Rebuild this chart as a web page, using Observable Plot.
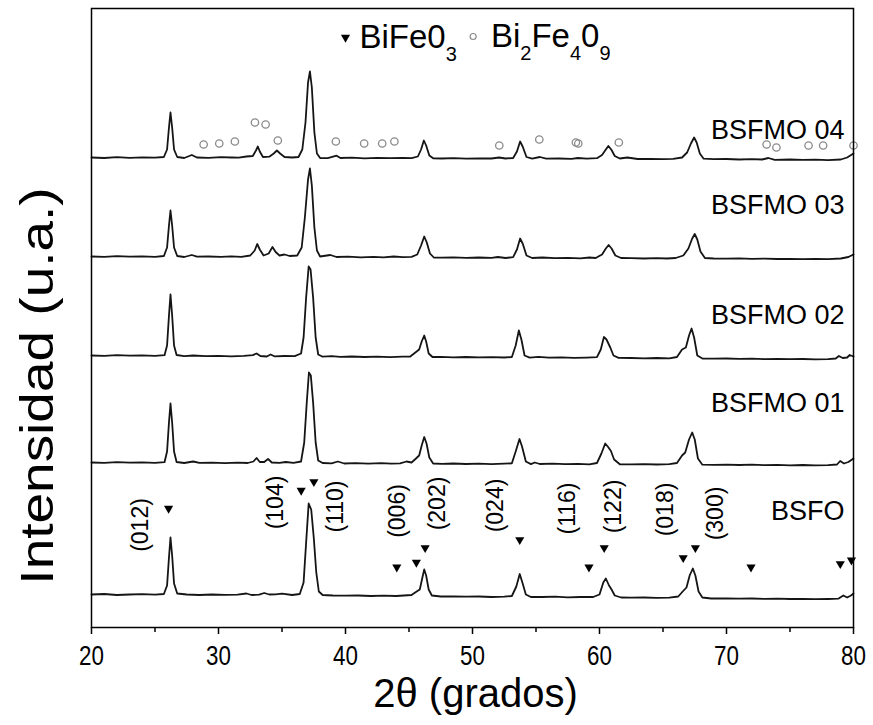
<!DOCTYPE html>
<html><head><meta charset="utf-8">
<script src="https://cdn.jsdelivr.net/npm/d3@7"></script>
<script src="https://cdn.jsdelivr.net/npm/@observablehq/plot@0.6"></script>
<style>body{margin:0;background:#fff} #chart{width:873px;height:725px}</style>
</head><body><div id="chart"></div>
<script>
const FONT = "'Liberation Sans', Arial, Helvetica, sans-serif";

// 2θ (grados) vs Intensidad (u.a.), traces already stacked
const bsfo = [[20,33],[21,33.5],[22,32.5],[23,33],[24,33.3],[25,32.8],[25.7,33.5],[25.95,42],[26.1,70],[26.22,90],[26.35,72],[26.5,44],[26.75,34],[27.5,33],[28.5,32.5],[29.5,33],[30.5,32.6],[31.5,32.8],[32.2,34],[32.6,32.5],[33.2,32.8],[33.6,34.5],[34,33],[34.5,33.2],[35,33.8],[35.8,32.5],[36.4,33.5],[36.7,45],[36.9,85],[37.1,124],[37.3,118],[37.5,90],[37.7,55],[37.9,36],[38.2,32.5],[39,32],[40,31.8],[41,32],[42,31.5],[43,31.8],[44,31.5],[44.6,32],[45.2,32.5],[45.6,36],[45.85,38],[46.02,48],[46.2,58],[46.35,52],[46.55,38],[46.8,32],[47.5,31],[48.5,31.2],[49.5,30.8],[50.5,31],[51.5,30.5],[52.5,30.8],[53.1,31.5],[53.45,41],[53.72,53.5],[53.95,44],[54.2,33],[54.6,30.5],[55.5,30.5],[56.5,30.8],[57.5,30.2],[58.5,30.5],[59.5,30.5],[60.0,33],[60.3,45],[60.5,49],[60.75,42],[60.95,38],[61.2,32],[61.7,30],[62.5,29.8],[63.5,30],[64.5,29.6],[65.5,29.8],[66.2,31],[66.55,36],[66.85,40],[67.1,52],[67.35,59],[67.55,52],[67.8,36],[68.1,30],[68.8,29],[70,29.2],[71,28.8],[72,29],[73,28.6],[74,28.8],[75,28.5],[76,28.7],[77,28.3],[78,28.5],[78.8,28.8],[79.2,32],[79.5,30],[79.8,32],[80,34]];
const bsfmo01 = [[20,165],[21,164.6],[22,165.3],[23,164.8],[24,165.2],[25,164.7],[25.75,165.3],[25.95,176],[26.1,205],[26.22,224],[26.35,205],[26.5,176],[26.7,165.5],[27.3,164.5],[28,166],[28.5,164.6],[29.5,164.9],[30.5,164.4],[31.5,164.8],[32.3,164.5],[32.75,166],[33.0,169.5],[33.25,165.5],[33.6,165.5],[33.9,168.5],[34.2,165],[34.8,164.6],[35.3,165.5],[35.9,164.6],[36.5,166],[36.75,185],[36.95,225],[37.12,255],[37.27,252],[37.45,225],[37.65,185],[37.85,167],[38.2,164.5],[38.9,164.2],[39.4,166],[39.9,164],[40.8,164.4],[41.8,163.9],[42.8,164.3],[43.6,163.8],[44.3,164.2],[44.8,166],[45.2,165],[45.55,169],[45.8,172],[46.0,182],[46.2,190.5],[46.38,184],[46.6,170],[46.9,164],[47.6,163.6],[48.5,164],[49.5,163.5],[50.5,163.9],[51.5,163.4],[52.5,163.8],[53.1,164.2],[53.4,176],[53.7,188.5],[53.9,181],[54.2,166],[54.6,163.4],[54.9,165],[55.3,163.5],[56.3,163.8],[57.3,163.3],[58.3,163.6],[59.2,163.2],[59.8,164.5],[60.15,174],[60.45,184],[60.65,181],[60.9,176.5],[61.15,168],[61.6,163.2],[62.5,163.1],[63.5,163.4],[64.5,163],[65.5,163.3],[66.1,164.5],[66.5,172],[66.75,175],[67.05,188],[67.3,195],[67.5,188],[67.75,169],[68.1,162.8],[69,162.6],[70,162.9],[71,162.5],[72,162.8],[73,162.3],[74,162.6],[75,162.2],[76,162.5],[77,162.1],[78,162.4],[78.7,163],[78.95,166.5],[79.25,164],[79.6,165.5],[80,169]];
const bsfmo02 = [[20,272],[21,271.6],[22,272.3],[23,271.8],[24,272.1],[25,271.7],[25.75,272.3],[25.95,282],[26.1,312],[26.22,333],[26.35,312],[26.5,282],[26.7,272.5],[27.3,271.4],[28,272],[29,271.3],[30,271.7],[31,271.2],[32,271.6],[32.7,272.4],[33.0,274],[33.3,271.5],[33.8,271],[34.1,273],[34.4,271.2],[35.2,271.5],[36,271.3],[36.5,274],[36.7,290],[36.9,330],[37.1,361],[37.25,358],[37.45,330],[37.65,290],[37.85,273],[38.2,270.8],[38.9,271.3],[39.6,270.6],[40.5,271],[41.5,270.5],[42.5,270.9],[43.5,270.4],[44.5,270.8],[45.1,271],[45.5,275],[45.8,278],[46.0,286],[46.2,292],[46.35,286],[46.55,274],[46.85,270.5],[47.5,270.6],[48.5,270.2],[49.5,270.5],[50.5,270.1],[51.5,270.4],[52.5,270],[53.1,270.5],[53.4,282],[53.65,297],[53.85,288],[54.1,272],[54.5,269.8],[55.2,270.6],[56,269.8],[57,270.1],[58,269.6],[59,269.9],[59.8,270.3],[60.1,278],[60.35,290.5],[60.55,288],[60.85,280],[61.1,272],[61.5,269.6],[62.5,269.5],[63.5,269.2],[64.5,269.5],[65.5,269.1],[66.1,270.5],[66.5,278],[66.8,280],[67.05,292],[67.25,299],[67.45,290],[67.7,272],[68.1,269],[69,268.8],[70,269],[71,268.6],[72,268.8],[73,268.4],[74,268.7],[75,268.3],[76,268.5],[77,268.2],[78,268.4],[78.6,269],[78.85,271.5],[79.15,269.5],[79.5,270],[79.7,272.5],[80,271]];
const bsfmo03 = [[20,371],[21,370.6],[22,371.3],[23,370.8],[24,371.2],[25,370.7],[25.7,371.5],[25.95,380],[26.1,402],[26.22,417],[26.35,402],[26.5,380],[26.75,371.5],[27.3,370.5],[27.9,372.5],[28.3,370.8],[29.2,371],[30.2,370.6],[31,371.2],[31.8,370.7],[32.5,372],[32.85,377],[33.05,383.5],[33.25,378],[33.55,372],[33.95,374],[34.25,380.5],[34.5,375.5],[34.8,372],[35.2,373],[35.6,371.5],[36.2,372],[36.55,380],[36.8,410],[37.05,448],[37.2,459],[37.35,442],[37.55,400],[37.75,377],[38,371],[38.8,372.5],[39.3,370.5],[40.2,370.8],[41.2,370.2],[42.2,370.6],[43,370.1],[43.8,371],[44.5,370.3],[45.2,370.6],[45.65,373],[45.95,382],[46.2,391],[46.4,385],[46.65,374],[46.95,370],[47.6,369.8],[48.5,370.2],[49.5,369.7],[50.5,370],[51.5,369.6],[52,370.5],[52.6,369.5],[53.2,370.3],[53.5,378],[53.75,389],[53.95,384],[54.25,372],[54.7,369.5],[55.5,370],[56.5,369.3],[57.5,369.6],[58.5,369.2],[59.2,370],[59.7,369.5],[60.2,373],[60.5,379],[60.72,382.5],[60.95,379],[61.25,372],[61.7,369.5],[62.5,369.4],[63.5,369],[64.5,369.3],[65.3,369],[66,369.5],[66.6,372],[67,379],[67.3,389],[67.5,393.5],[67.7,388],[67.95,376],[68.3,369.5],[69,369],[70,368.8],[71,369.1],[72,368.7],[73,368.9],[74,368.5],[75,368.7],[76,368.4],[77,368.6],[78,368.4],[79,369],[79.6,370.5],[80,373]];
const bsfmo04 = [[20,470],[21,469.5],[22,470.3],[23,469.6],[24,470.2],[25,469.8],[25.7,470.5],[25.95,478],[26.1,500],[26.22,515],[26.35,500],[26.5,478],[26.75,470.5],[27.3,469.5],[27.9,472.5],[28.3,470],[29.2,469.6],[30.2,470.4],[31,470],[31.6,469.8],[32.2,471],[32.7,471.5],[32.95,477],[33.1,481],[33.25,476],[33.5,470.5],[34,470.8],[34.35,474],[34.6,477],[34.85,474],[35.2,470.5],[35.8,470],[36.3,470.5],[36.6,478],[36.85,505],[37.05,545],[37.2,556],[37.35,540],[37.55,495],[37.75,474],[38,469.5],[38.6,469.3],[39.3,471.8],[39.6,469.5],[40.5,469.8],[41.5,469.2],[42.5,469.6],[43.5,469.3],[44.5,469.5],[45.2,469.4],[45.7,471],[45.95,478],[46.17,487],[46.35,482],[46.6,472],[46.9,469.2],[47.6,469],[48.5,469.4],[49.5,468.9],[50.5,469.2],[51.5,469],[52.1,470],[52.6,469],[53.2,469.5],[53.5,476],[53.75,486],[53.95,481],[54.25,470.5],[54.7,468.8],[55.3,470.5],[55.8,468.9],[56.8,469],[57.8,468.6],[58.3,469.5],[59,468.8],[59.8,469.3],[60.2,472.5],[60.5,478],[60.7,481.5],[60.95,477.5],[61.2,471.5],[61.6,469],[62.2,470],[63,468.5],[64,468.7],[65,468.3],[65.8,468.6],[66.5,470],[66.9,475],[67.2,484],[67.45,490],[67.65,485],[67.9,474],[68.2,468.8],[69,468.3],[70,468.5],[71,468],[72,468.3],[72.8,468],[73.3,469.5],[73.8,467.7],[75,468],[76,467.6],[77,467.9],[78,467.4],[79,468],[79.5,470],[80,474]];

const sampleNames = ["BSFO", "BSFMO 01", "BSFMO 02", "BSFMO 03", "BSFMO 04"];
const sampleTraces = [bsfo, bsfmo01, bsfmo02, bsfmo03, bsfmo04];
const sampleLabelY = [116, 224, 312, 422, 497];
const sampleLabelX = 79.3;

// BiFeO3 reflections (filled down-triangles)
const bifeoX = [26.07, 36.51, 37.51, 44.04, 45.58, 46.27, 53.72, 59.17, 60.37, 66.59, 67.55, 71.93, 78.96, 79.84];
const bifeoY = [119, 137, 145.7, 60.3, 65, 79.7, 87.7, 60.3, 79.7, 69.7, 79.7, 60.3, 63.7, 67.3];
// Bi2Fe4O9 reflections (open circles)
const bi2X = [28.83, 30.06, 31.29, 32.87, 33.71, 34.67, 39.24, 41.47, 42.89, 43.85, 52.11, 55.26, 58.14, 58.33, 61.52, 73.16, 73.93, 76.46, 77.61, 80.0];
const bi2Y = [483, 484, 486, 505, 503, 487, 486, 484, 484, 486, 482, 488, 485, 484, 485, 483, 480, 482, 482, 482];

const millerLabels = ["(012)", "(104)", "(110)", "(006)", "(202)", "(024)", "(116)", "(122)", "(018)", "(300)"];
const millerX = [23.86, 34.49, 39.21, 44.07, 47.22, 51.81, 57.46, 61.13, 65.2, 69.13];
const millerY = [102.5, 125, 121, 116.5, 124, 122, 119, 121, 118, 114];

const legendTexts = ["BiFe0_3", "Bi_2Fe_40_9"];
const legendTextX = [41.1, 51.45];
const legendY = [590, 591];
const legendSymX = [40.0, 50.05];

const xTicks = [20, 30, 40, 50, 60, 70, 80];
const xMinorTicks = [25, 35, 45, 55, 65, 75];
const xTitle = "2θ (grados)";
const yTitle = "Intensidad (u.a.)";

const rows = sampleNames.flatMap((name, i) => sampleTraces[i].map(([x, y]) => ({name, x, y})));
const samples = sampleNames.map((name, i) => ({name, y: sampleLabelY[i]}));
const bifeo = bifeoX.map((x, i) => ({x, y: bifeoY[i]}));
const bi2 = bi2X.map((x, i) => ({x, y: bi2Y[i]}));
const miller = millerLabels.map((t, i) => ({t, x: millerX[i], y: millerY[i]}));
const legend = legendTexts.map((t, i) => ({t, x: legendTextX[i], sx: legendSymX[i], y: legendY[i]}));

const triangleDown = {
  draw(ctx, size) {
    const s = Math.sqrt(size / (Math.sqrt(3) / 4));
    const h = s * Math.sqrt(3) / 2;
    ctx.moveTo(-s / 2, -h / 3);
    ctx.lineTo(s / 2, -h / 3);
    ctx.lineTo(0, 2 * h / 3);
    ctx.closePath();
  }
};

const chart = Plot.plot({
  width: 873, height: 725,
  marginLeft: 91, marginRight: 20, marginTop: 8, marginBottom: 98,
  style: {fontFamily: FONT, background: "white", color: "black", overflow: "visible"},
  x: {domain: [20, 80], label: null},
  y: {domain: [0, 619], axis: null},
  marks: [
    Plot.line(rows, {x: "x", y: "y", z: "name", stroke: "#151515", strokeWidth: 1.8}),
    Plot.dot(bifeo, {x: "x", y: "y", symbol: triangleDown, r: 3.4, fill: "black", stroke: "none"}),
    Plot.dot(bi2, {x: "x", y: "y", r: 3.7, stroke: "#8a8a8a", strokeWidth: 1.3, fill: "none"}),
    Plot.text(miller, {x: "x", y: "y", text: "t", rotate: -90, fontSize: 23, fill: "black"}),
    Plot.text(samples, {x: sampleLabelX, y: "y", text: "name", textAnchor: "end", fontSize: 27, fill: "black"}),
    Plot.dot(legend.slice(0, 1), {x: "sx", y: "y", symbol: triangleDown, r: 3.4, fill: "black", stroke: "none"}),
    Plot.dot(legend.slice(1), {x: "sx", y: "y", r: 3, stroke: "#8a8a8a", strokeWidth: 1.2, fill: "none"}),
    Plot.text(legend, {x: "x", y: "y", text: "t", textAnchor: "start", fontSize: 33, fill: "black"}),
    Plot.axisX(xTicks, {tickSize: 7, tickPadding: 11, fontSize: 28, label: null, strokeWidth: 1.5}),
    Plot.axisX(xMinorTicks, {tickSize: 5, text: null, label: null, strokeWidth: 1.5}),
    Plot.frame({stroke: "black", strokeWidth: 1.5}),
    Plot.text([xTitle], {frameAnchor: "bottom", dy: 79, dx: 3, fontSize: 40, fill: "black"}),
    Plot.text([yTitle], {frameAnchor: "left", textAnchor: "middle", rotate: -90, dx: -54, dy: 68, fontSize: 47, fill: "black"})
  ]
});

const svg = d3.select(chart);
// condensed tick labels, as in the reference
svg.selectAll("g[aria-label='x-axis tick label'] text").each(function () {
  const t = this.getAttribute("transform") || "";
  this.setAttribute("transform", t + " scale(0.8,1)");
});
// the y title is drawn longer along its baseline in the reference
svg.selectAll("text").filter(function () { return this.textContent === yTitle; }).each(function () {
  const t = this.getAttribute("transform") || "";
  this.setAttribute("transform", t + " scale(1.17,1)");
});
// subscripts in the legend labels
svg.selectAll("text").filter(function () { return this.textContent.includes("_"); }).each(function () {
  const el = d3.select(this);
  const parts = this.textContent.split(/_(\d)/);
  el.text(null);
  parts.forEach((p, i) => {
    if (p === "") return;
    const isSub = i % 2 === 1;
    const ts = el.append("tspan").text(p);
    if (isSub) ts.attr("font-size", 20).attr("dy", 13);
    else if (i > 0) ts.attr("dy", -13);
  });
});

document.getElementById("chart").append(chart);
</script>
</body></html>
